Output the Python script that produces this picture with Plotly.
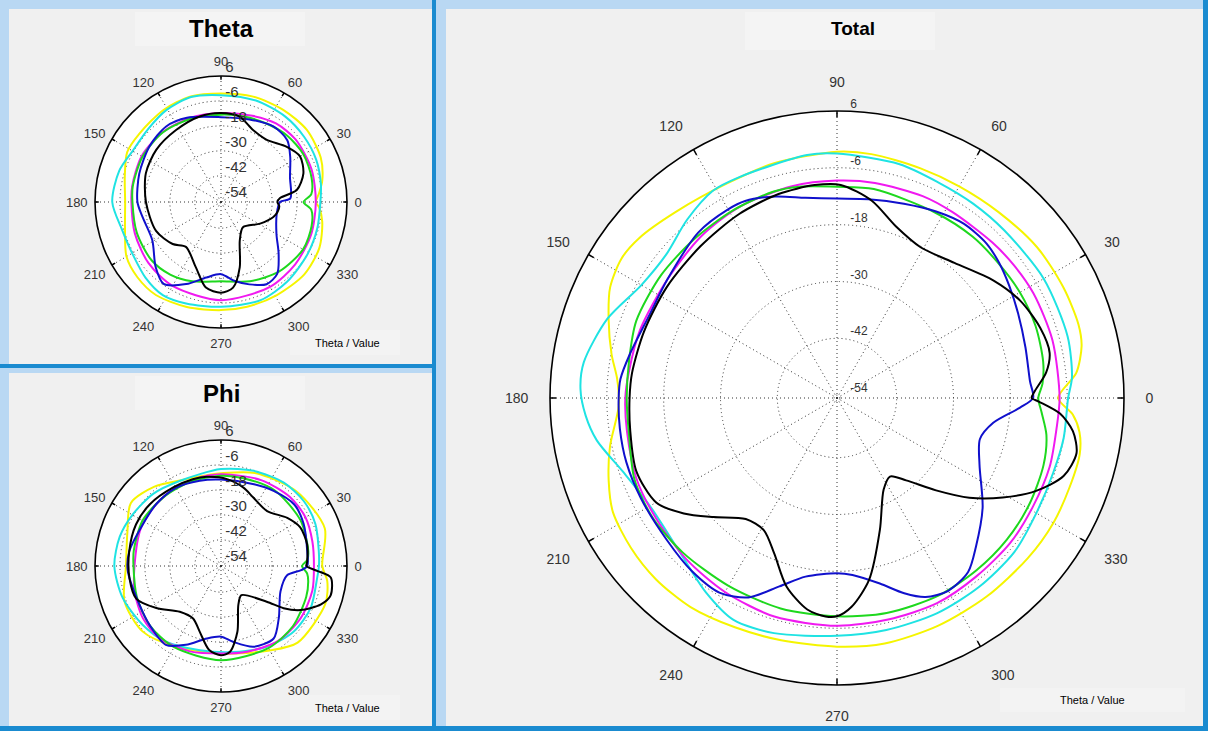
import plotly.graph_objects as go

W, H = 1208, 731

# ---------------- data (degrees, dB) ----------------
# Total
TOT_YEL_DEG = [0, 6, 12, 17, 26, 37, 49, 60, 70, 82, 90, 105, 117, 131, 141, 147, 154, 161, 169, 175, 182, 192, 200, 207, 216, 225, 235, 246, 257, 270, 281, 294, 307, 320, 330, 339, 347, 352, 356, 360]
TOT_YEL_DB = [-7.9, -3.8, -1.8, -1.3, -1.4, -1.7, -2.6, -3.0, -3.0, -2.6, -2.6, -3.3, -3.7, -2.6, -0.9, -0.4, -1.3, -3.6, -6.1, -8.0, -8.5, -5.6, -3.3, -1.5, -0.8, -0.5, -0.7, -1.6, -2.1, -2.1, -1.8, -2.0, -2.1, -2.0, -1.85, -2.0, -2.0, -2.9, -4.7, -7.9]

TOT_CYA_DEG = [0, 5, 15, 30, 45, 55, 65, 75, 90, 97, 114, 121, 130, 140, 150, 161, 172, 178, 184, 190, 199, 210, 225, 236, 245, 255, 270, 282, 295, 307, 319, 330, 341, 350, 360]
TOT_CYA_DB = [-5.8, -4.8, -4.2, -4.2, -4.6, -4.5, -4.3, -3.5, -3.0, -2.9, -3.6, -3.6, -5.4, -7.5, -6.9, -3.3, -0.6, -0.4, -1.4, -3.1, -6.8, -9.0, -8.0, -5.1, -2.9, -3.2, -4.4, -4.5, -4.5, -4.7, -5.0, -6.0, -6.3, -6.0, -5.8]

TOT_MAG_DEG = [0, 15, 28, 37, 45, 58, 67, 80, 90, 102, 117, 130, 145, 161, 173, 180, 189, 202, 214, 227, 240, 254, 270, 283, 296, 308, 320, 331, 342, 352, 360]
TOT_MAG_DB = [-7.6, -7.5, -7.6, -7.9, -8.2, -8.4, -8.3, -8.5, -8.7, -8.9, -9.3, -10.0, -10.9, -10.6, -10.3, -9.9, -9.7, -8.95, -8.7, -8.0, -7.3, -6.6, -6.5, -6.6, -6.4, -6.8, -6.9, -7.3, -7.4, -7.8, -7.6]

TOT_GRN_DEG = [0, 4, 10, 20, 30, 40, 50, 62, 80, 90, 100, 107, 119, 132, 145, 159, 170, 180, 190, 202, 213, 225, 240, 255, 270, 283, 297, 309, 320, 331, 342, 350, 356, 360]
TOT_GRN_DB = [-12.1, -11.1, -10.4, -10.0, -10.0, -10.2, -10.1, -10.3, -9.8, -10.0, -9.3, -9.0, -9.3, -9.5, -9.3, -9.2, -10.0, -10.2, -10.0, -8.5, -8.2, -8.5, -8.8, -8.6, -8.5, -8.0, -7.7, -7.8, -7.9, -8.2, -8.75, -9.7, -11.3, -12.1]

TOT_BLK_DEG = [0, 2, 7, 12, 19, 28, 37, 49, 61, 71, 80, 89, 96, 106, 118, 132, 147, 161, 173, 180, 189, 200, 210, 217, 224, 233, 241, 248, 255, 262, 267, 270, 274, 280, 288, 297, 304, 310, 317, 323, 329, 335, 341, 347, 352, 356, 359, 360]
TOT_BLK_DB = [-13.5, -12.8, -10.1, -8.7, -9.2, -10.8, -13.3, -16.8, -18.2, -16.3, -12.3, -9.6, -9.4, -9.8, -10.6, -11.5, -11.7, -11.5, -11.0, -10.8, -10.4, -9.5, -10.5, -14.1, -18.4, -22.6, -22.7, -19.2, -13.4, -9.5, -8.4, -8.5, -10.4, -15.6, -25.3, -32.9, -34.6, -31.9, -26.0, -19.6, -13.8, -8.2, -4.0, -2.7, -4.3, -7.4, -12.0, -13.5]

TOT_BLU_DEG = [0, 5, 15, 25, 33, 40, 46, 54, 62, 71, 81, 90, 99, 107, 115, 120, 130, 145, 156, 168, 175, 180, 188, 197, 207, 220, 230, 239, 246, 253, 260, 270, 275, 283, 289, 294, 300, 307, 313, 323, 335, 344, 351, 357, 360]
TOT_BLU_DB = [-13.2, -13.7, -13.4, -12.4, -11.2, -10.0, -9.2, -9.1, -10.0, -11.2, -12.1, -12.5, -11.8, -10.1, -8.7, -8.6, -9.0, -10.9, -11.3, -9.9, -8.7, -8.5, -8.3, -8.1, -8.1, -7.8, -6.9, -6.6, -8.5, -13.0, -16.3, -17.6, -17.1, -14.4, -11.0, -8.6, -7.6, -8.6, -11.6, -16.1, -21.4, -23.2, -21.2, -15.9, -13.2]

# Theta
TH_YEL_DEG = [0, 5, 12, 24, 40, 56, 73, 90, 106, 122, 140, 152, 165, 180, 195, 210, 222, 235, 252, 270, 284, 301, 319, 335, 349, 357, 360]
TH_YEL_DB = [-9.0, -7.3, -4.8, -2.1, -0.7, -1.1, -1.6, -2.4, -1.8, -2.4, -3.4, -3.5, -6.7, -8.5, -6.8, -2.1, -0.5, 0.0, -1.5, -2.6, -2.7, -2.4, -1.5, -2.4, -5.0, -7.4, -9.0]

TH_CYA_DEG = [0, 10, 24, 38, 53, 71, 90, 106, 121, 135, 150, 163, 180, 196, 211, 225, 238, 251, 270, 292, 310, 329, 345, 360]
TH_CYA_DB = [-6.8, -5.8, -4.5, -3.8, -3.2, -3.0, -3.2, -2.1, -3.2, -5.0, -5.5, -3.4, -2.3, -5.2, -5.2, -3.2, -1.8, -3.0, -4.2, -3.7, -4.8, -6.0, -6.6, -6.8]

TH_MAG_DEG = [0, 20, 40, 55, 70, 90, 110, 130, 150, 170, 180, 200, 220, 240, 270, 300, 320, 340, 360]
TH_MAG_DB = [-9.0, -8.3, -7.8, -8.5, -10.5, -11.8, -11.5, -10.8, -10.5, -11.2, -11.5, -10.5, -9.0, -8.0, -7.4, -7.5, -8.0, -8.5, -9.0]

TH_GRN_DEG = [0, 5, 15, 30, 45, 60, 75, 90, 110, 130, 150, 170, 180, 200, 220, 235, 250, 270, 290, 310, 330, 345, 355, 360]
TH_GRN_DB = [-14.9, -11.0, -9.5, -8.8, -9.5, -11.0, -12.0, -12.6, -12.0, -11.0, -11.0, -11.5, -12.0, -11.5, -11.0, -12.0, -14.0, -16.5, -14.0, -11.0, -9.0, -9.5, -11.0, -14.9]

TH_BLK_DEG = [0, 4, 9, 19, 30, 40, 54, 66, 78, 90, 104, 122, 141, 159, 180, 204, 221, 232, 249, 260, 270, 278, 286, 296, 311, 331, 344, 350, 356, 360]
TH_BLK_DB = [-27.5, -26.0, -17.7, -12.7, -10.7, -13.3, -17.5, -16.7, -12.5, -11.8, -12.2, -13.8, -14.6, -15.9, -18.5, -20.4, -23.8, -27.2, -20.9, -12.8, -11.0, -13.0, -21.9, -34.0, -38.5, -33.1, -28.4, -27.0, -26.5, -27.5]

TH_BLU_DEG = [0, 3, 20, 33, 43, 55, 71, 90, 112, 126, 142, 161, 180, 191, 209, 225, 235, 247, 259, 270, 280, 289, 299, 308, 318, 330, 348, 360]
TH_BLU_DB = [-26.2, -21.2, -19.3, -14.9, -11.0, -10.4, -12.6, -13.8, -10.9, -9.7, -11.0, -13.0, -14.4, -16.2, -16.8, -10.2, -6.5, -11.7, -17.6, -19.9, -16.0, -12.7, -9.4, -10.7, -17.3, -23.8, -27.2, -26.2]

# Phi
PH_YEL_DEG = [0, 20, 45, 70, 90, 100, 115, 130, 145, 160, 180, 200, 220, 240, 270, 300, 315, 340, 352, 360]
PH_YEL_DB = [-5.9, -1.5, -3.6, -7.0, -10.0, -10.4, -9.1, -4.8, -1.7, -6.7, -8.9, -5.2, -5.5, -10.0, -12.5, -7.7, -2.5, -1.2, -3.0, -5.9]

PH_CYA_DEG = [0, 9, 24, 38, 53, 71, 90, 116, 133, 150, 164, 180, 198, 217, 234, 256, 278, 300, 318, 335, 353, 360]
PH_CYA_DB = [-7.5, -7.0, -4.9, -4.0, -4.4, -6.2, -8.0, -9.1, -7.0, -5.4, -3.9, -3.3, -4.9, -7.5, -9.6, -12.8, -12.8, -9.9, -7.5, -7.0, -8.0, -7.5]

PH_MAG_DEG = [0, 15, 30, 45, 65, 90, 107, 120, 136, 155, 180, 197, 214, 230, 250, 270, 287, 307, 327, 345, 360]
PH_MAG_DB = [-9.9, -9.1, -7.7, -7.7, -9.0, -10.5, -10.9, -11.2, -11.5, -12.0, -13.0, -11.2, -9.4, -9.0, -10.9, -12.5, -11.5, -9.3, -8.8, -9.1, -9.9]

PH_GRN_DEG = [0, 4, 10, 30, 55, 75, 90, 110, 130, 150, 170, 180, 200, 220, 240, 270, 300, 320, 340, 350, 355, 360]
PH_GRN_DB = [-15.6, -13.0, -12.0, -10.5, -10.0, -11.0, -11.2, -11.5, -11.5, -11.0, -12.0, -12.5, -11.5, -10.0, -9.5, -9.3, -9.0, -9.5, -11.0, -12.0, -13.0, -15.6]

PH_BLK_DEG = [0, 3, 14, 26, 36, 50, 65, 74, 86, 99, 108, 121, 139, 154, 171, 188, 201, 213, 228, 242, 252, 262, 270, 276, 284, 294, 305, 322, 326, 331, 339, 345, 354, 357, 360]
PH_BLK_DB = [-13.5, -13.1, -11.9, -12.2, -15.2, -20.1, -18.1, -15.4, -12.7, -11.2, -10.7, -10.4, -9.3, -9.1, -9.9, -10.2, -10.9, -17.5, -25.0, -26.0, -21.4, -13.8, -11.7, -13.1, -22.0, -34.1, -37.5, -26.7, -18.3, -10.9, -3.1, 0.0, -1.5, -8.0, -13.5]

PH_BLU_DEG = [0, 10, 27, 40, 55, 68, 90, 104, 120, 136, 152, 171, 183, 205, 220, 235, 246, 259, 270, 279, 292, 306, 318, 337, 352, 357, 360]
PH_BLU_DB = [-13.1, -12.5, -10.0, -8.6, -10.5, -12.2, -13.0, -12.3, -11.2, -11.5, -12.0, -9.9, -9.7, -11.2, -10.0, -8.3, -13.1, -19.1, -20.6, -17.7, -12.7, -11.5, -17.2, -23.5, -22.5, -16.0, -13.1]

R_TICKS = [-54, -42, -30, -18, -6, 6]
A_TICKS = [0, 30, 60, 90, 120, 150, 180, 210, 240, 270, 300, 330]
TITLES = ["Theta", "Phi", "Total"]

COLORS = {"yel": "#f5f500", "cya": "#1fe3e3", "mag": "#f019f0", "grn": "#1ed81e", "blu": "#1010cc", "blk": "#000000"}

PLOTS = {
    "polar": [("yel", TH_YEL_DEG, TH_YEL_DB), ("cya", TH_CYA_DEG, TH_CYA_DB), ("mag", TH_MAG_DEG, TH_MAG_DB),
              ("grn", TH_GRN_DEG, TH_GRN_DB), ("blu", TH_BLU_DEG, TH_BLU_DB), ("blk", TH_BLK_DEG, TH_BLK_DB)],
    "polar2": [("yel", PH_YEL_DEG, PH_YEL_DB), ("cya", PH_CYA_DEG, PH_CYA_DB), ("mag", PH_MAG_DEG, PH_MAG_DB),
               ("grn", PH_GRN_DEG, PH_GRN_DB), ("blu", PH_BLU_DEG, PH_BLU_DB), ("blk", PH_BLK_DEG, PH_BLK_DB)],
    "polar3": [("yel", TOT_YEL_DEG, TOT_YEL_DB), ("cya", TOT_CYA_DEG, TOT_CYA_DB), ("mag", TOT_MAG_DEG, TOT_MAG_DB),
               ("grn", TOT_GRN_DEG, TOT_GRN_DB), ("blu", TOT_BLU_DEG, TOT_BLU_DB), ("blk", TOT_BLK_DEG, TOT_BLK_DB)],
}
# inner tick length (dB units) on the outer ring, radial label font size and indent, per subplot
TICK_DB = {"polar": 1.8, "polar2": 1.8, "polar3": 1.3}
RLABEL_SIZE = {"polar": 15, "polar2": 15, "polar3": 12}
RLABEL_PAD = {"polar": " ", "polar2": " ", "polar3": "    "}
R_MIN, R_MAX = -54.6, 6
FONT = "Arial, Liberation Sans, sans-serif"


def fx(x):
    return x / W


def fy(y):
    return 1 - y / H


fig = go.Figure()
for sub, series in PLOTS.items():
    for key, deg, db in series:
        fig.add_trace(go.Scatterpolar(
            theta=deg, r=db, mode="lines", subplot=sub,
            line=dict(color=COLORS[key], width=2.0, shape="spline", smoothing=0.8),
            showlegend=False, hoverinfo="skip"))
    # small inward tick marks on the outer ring
    th, rr = [], []
    for a in A_TICKS:
        th += [a, a, None]
        rr += [R_MAX - TICK_DB[sub], R_MAX, None]
    fig.add_trace(go.Scatterpolar(theta=th, r=rr, mode="lines", subplot=sub,
                                  line=dict(color="black", width=1.5), showlegend=False, hoverinfo="skip"))
    # radial value labels, above-right of each grid ring on the 90 degree spoke
    fig.add_trace(go.Scatterpolar(theta=[90] * len(R_TICKS), r=R_TICKS, mode="text", subplot=sub,
                                  text=[RLABEL_PAD[sub] + str(v) for v in R_TICKS], textposition="top right",
                                  textfont=dict(family=FONT, size=RLABEL_SIZE[sub], color="#333333"),
                                  showlegend=False, hoverinfo="skip", cliponaxis=False))

GRID_DASH = "1px,3px"


def polar_layout(cx, cy, rad, afont, alen):
    return dict(
        domain=dict(x=[fx(cx - rad), fx(cx + rad)], y=[fy(cy + rad), fy(cy - rad)]),
        bgcolor="white",
        angularaxis=dict(
            rotation=0, direction="counterclockwise", tickvals=A_TICKS,
            ticktext=[str(a) for a in A_TICKS],
            showline=True, linecolor="black", linewidth=1.6,
            ticks="outside", ticklen=alen, tickcolor="rgba(0,0,0,0)", tickwidth=1,
            showgrid=True, gridcolor="#333333", gridwidth=1.3, griddash=GRID_DASH,
            tickfont=dict(family=FONT, size=afont, color="#333333")),
        radialaxis=dict(
            range=[R_MIN, R_MAX], tickvals=R_TICKS, showticklabels=False,
            angle=90, showline=False, ticks="",
            showgrid=True, gridcolor="#333333", gridwidth=1.3, griddash=GRID_DASH),
    )


LIGHT = "#b9d8f3"
DARK = "#1a8bd0"
PANEL = "#f0f0f0"

shapes = []


def rect(x0, y0, x1, y1, color):
    shapes.append(dict(type="rect", xref="paper", yref="paper", x0=fx(x0), x1=fx(x1), y0=fy(y1), y1=fy(y0),
                       fillcolor=color, line=dict(width=0), layer="below"))


# panels
rect(9, 9, 432, 364, PANEL)
rect(9, 373, 432, 726, PANEL)
rect(446, 9, 1203, 726, PANEL)
# title boxes (slightly lighter)
rect(135, 12, 305, 46, "#f4f4f4")
rect(135, 376, 305, 410, "#f4f4f4")
rect(745, 12, 935, 50, "#f4f4f4")
rect(290, 330, 400, 355, "#f3f3f3")
rect(290, 695, 400, 720, "#f3f3f3")
rect(1000, 688, 1185, 712, "#f3f3f3")
# dark edges
rect(432, 0, 436, 731, DARK)
rect(0, 364, 436, 368, DARK)
rect(0, 726, 1208, 731, DARK)
rect(1203, 0, 1208, 731, DARK)

annotations = []


def text(x, y, s, size, bold=False, color="black"):
    annotations.append(dict(x=fx(x), y=fy(y), xref="paper", yref="paper", text=("<b>%s</b>" % s) if bold else s,
                            showarrow=False, xanchor="center", yanchor="middle",
                            font=dict(family=FONT, size=size, color=color)))


text(221, 28, TITLES[0], 24, True)
text(221, 393, TITLES[1], 24, True)
text(853, 29, TITLES[2], 19, True)
text(348, 343, "Theta / Value", 11)
text(348, 708, "Theta / Value", 11)
text(1092, 700, "Theta / Value", 11)

fig.update_layout(
    width=W, height=H, margin=dict(l=0, r=0, t=0, b=0),
    paper_bgcolor=LIGHT, plot_bgcolor=LIGHT,
    polar=polar_layout(221, 202, 126, 13, 4),
    polar2=polar_layout(221, 566, 126, 13, 4),
    polar3=polar_layout(837, 398, 287, 14, 18),
    shapes=shapes, annotations=annotations, showlegend=False,
)

fig.write_html("out.html", config={"displayModeBar": False},
               post_script="document.body.style.margin='0px';document.body.style.overflow='hidden';")
